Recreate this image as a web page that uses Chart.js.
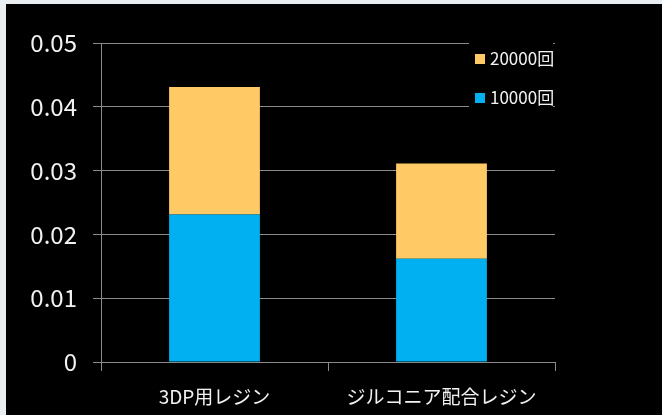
<!DOCTYPE html>
<html>
<head>
<meta charset="utf-8">
<script src="https://cdn.jsdelivr.net/npm/chart.js@4"></script>
<style>
  html, body { margin: 0; padding: 0; background: #e9eef3; }
  #wrap { position: absolute; left: 6px; top: 4px; width: 656px; height: 411px; background: #000; }
</style>
</head>
<body>
<div id="wrap"><canvas id="chart" width="656" height="411"></canvas></div>
<script>
const categories = ['3DP用レジン', 'ジルコニア配合レジン'];
const seriesNames = ['10000回', '20000回'];
const values10000 = [0.0231, 0.0162];
const values20000 = [0.0200, 0.0149];
const yTicks = [0, 0.01, 0.02, 0.03, 0.04, 0.05];

const jp = '"Noto Sans CJK JP", "Noto Sans", sans-serif';
const gridGray = '#8a8a8a';

// legend sits inside the plot, on a black box that hides the gridlines
const boxLegend = {
    id: 'boxLegend',
    afterDraw(chart) {
        const c = chart.ctx;
        c.save();
        c.fillStyle = '#000';
        c.fillRect(463, 34, 84, 76);
        c.font = '17px ' + jp;
        c.textBaseline = 'middle';
        const rows = [55, 94];
        const ds = chart.data.datasets.slice().reverse();
        ds.forEach((d, i) => {
            c.fillStyle = d.backgroundColor;
            c.fillRect(469, rows[i] - 5, 10, 10);
            c.fillStyle = '#f2f2f2';
            c.fillText(d.label, 484, rows[i]);
        });
        c.restore();
    }
};

new Chart(document.getElementById('chart'), {
    type: 'bar',
    data: {
        labels: categories,
        datasets: [
            { label: seriesNames[0], data: values10000, backgroundColor: 'rgb(0, 176, 240)' },
            { label: seriesNames[1], data: values20000, backgroundColor: 'rgb(255, 201, 102)' }
        ]
    },
    options: {
        responsive: false,
        animation: false,
        layout: { padding: { top: 39, right: 107, left: 0, bottom: 0 } },
        plugins: { legend: { display: false }, tooltip: { enabled: false } },
        datasets: { bar: { categoryPercentage: 1, barPercentage: 0.4 } },
        scales: {
            x: {
                stacked: true,
                grid: { offset: true, drawOnChartArea: false, color: gridGray, tickLength: 9 },
                border: { color: gridGray },
                ticks: { color: '#f2f2f2', font: { family: jp, size: 19 }, padding: 14, maxRotation: 0 },
                afterFit(s) { s.height = 53; }
            },
            y: {
                stacked: true,
                min: 0,
                max: 0.05,
                afterBuildTicks(s) { s.ticks = yTicks.map(v => ({ value: v })); },
                grid: { color: gridGray, tickLength: 8 },
                border: { color: gridGray },
                ticks: { color: '#f2f2f2', font: { family: jp, size: 24 }, padding: 16 },
                afterFit(s) { s.width = 95; }
            }
        }
    },
    plugins: [boxLegend]
});
</script>
</body>
</html>
